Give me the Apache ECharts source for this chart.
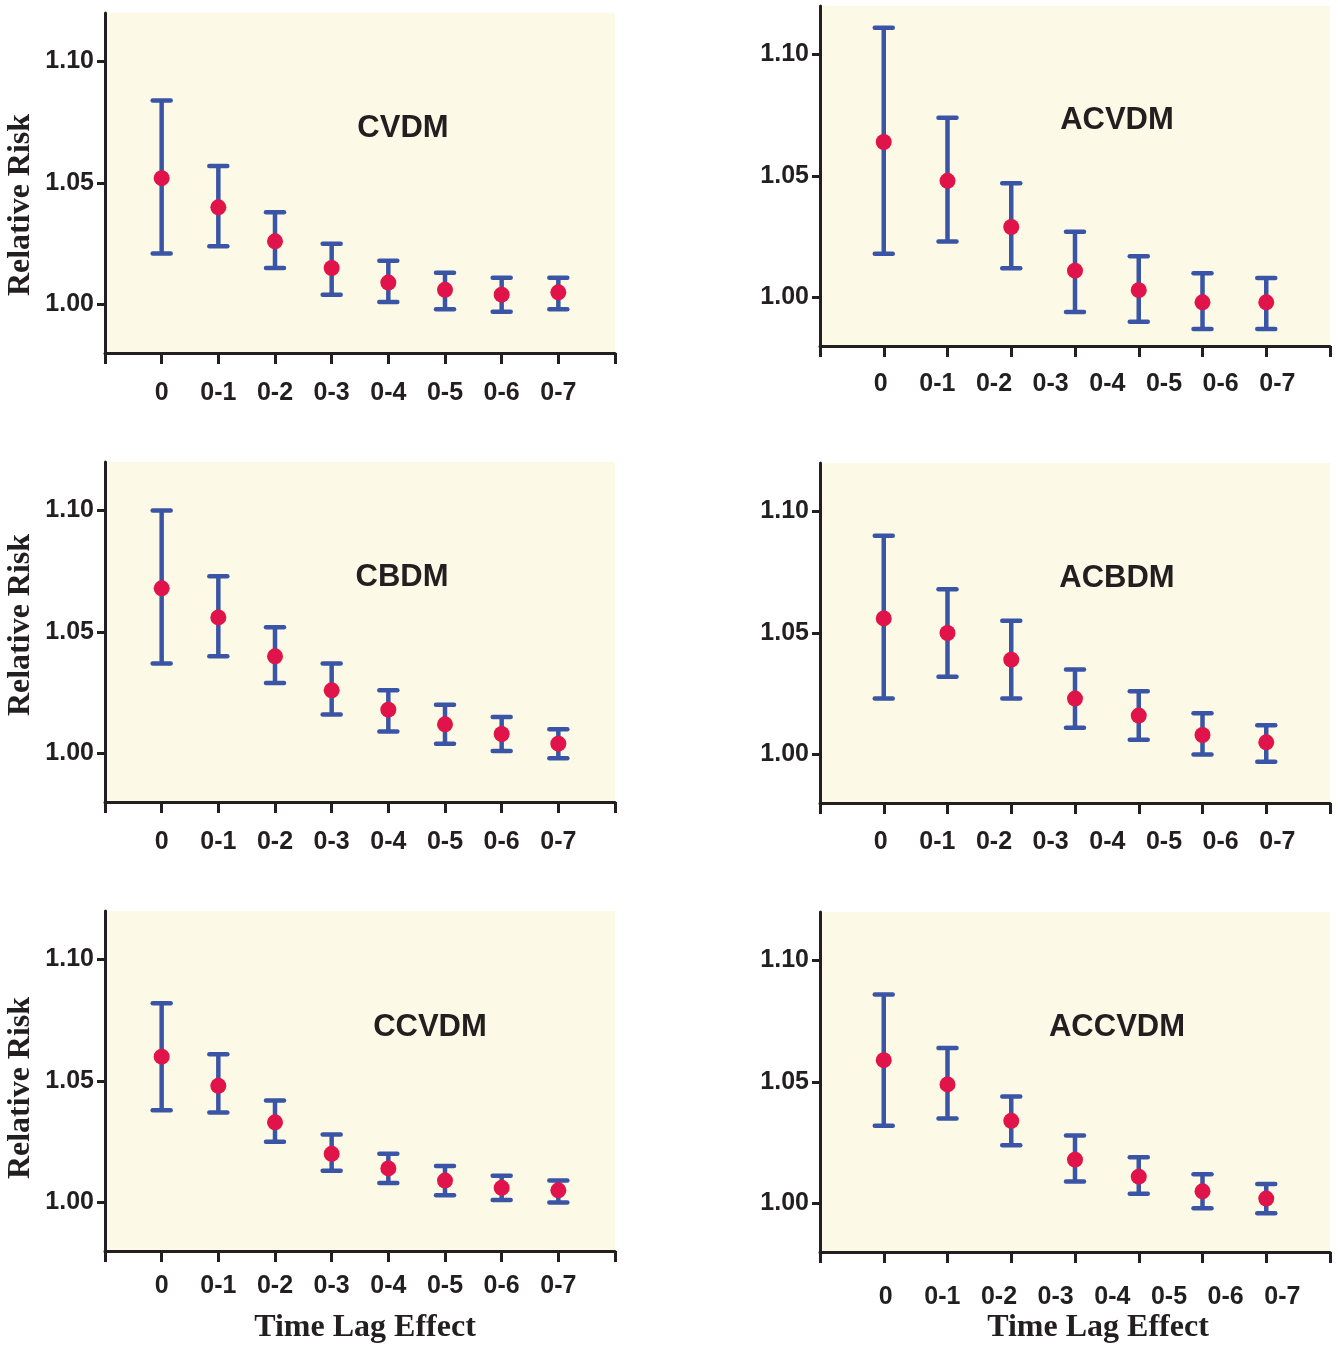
<!DOCTYPE html>
<html>
<head>
<meta charset="utf-8">
<script src="https://cdn.jsdelivr.net/npm/echarts@6/dist/echarts.min.js"></script>
<style>
  html, body { margin: 0; padding: 0; background: #fff; }
  #chart { width: 1338px; height: 1346px; }
</style>
</head>
<body>
<div id="chart"></div>
<script>
// lag labels
const lags = ['0', '0-1', '0-2', '0-3', '0-4', '0-5', '0-6', '0-7']
const yTicks = [1.00, 1.05, 1.10]

// relative risk + 95% CI
const cvdmRR   = [1.052, 1.040, 1.026, 1.015, 1.009, 1.006, 1.004, 1.005]
const cvdmLow  = [1.021, 1.024, 1.015, 1.004, 1.001, 0.998, 0.997, 0.998]
const cvdmHigh = [1.084, 1.057, 1.038, 1.025, 1.018, 1.013, 1.011, 1.011]

const acvdmRR   = [1.064, 1.048, 1.029, 1.011, 1.003, 0.998, 0.998]
const acvdmLow  = [1.018, 1.023, 1.012, 0.994, 0.990, 0.987, 0.987]
const acvdmHigh = [1.111, 1.074, 1.047, 1.027, 1.017, 1.010, 1.008]

const cbdmRR   = [1.068, 1.056, 1.040, 1.026, 1.018, 1.012, 1.008, 1.004]
const cbdmLow  = [1.037, 1.040, 1.029, 1.016, 1.009, 1.004, 1.001, 0.998]
const cbdmHigh = [1.100, 1.073, 1.052, 1.037, 1.026, 1.020, 1.015, 1.010]

const acbdmRR   = [1.056, 1.050, 1.039, 1.023, 1.016, 1.008, 1.005]
const acbdmLow  = [1.023, 1.032, 1.023, 1.011, 1.006, 1.000, 0.997]
const acbdmHigh = [1.090, 1.068, 1.055, 1.035, 1.026, 1.017, 1.012]

const ccvdmRR   = [1.060, 1.048, 1.033, 1.020, 1.014, 1.009, 1.006, 1.005]
const ccvdmLow  = [1.038, 1.037, 1.025, 1.013, 1.008, 1.003, 1.001, 1.000]
const ccvdmHigh = [1.082, 1.061, 1.042, 1.028, 1.020, 1.015, 1.011, 1.009]

const accvdmRR   = [1.059, 1.049, 1.034, 1.018, 1.011, 1.005, 1.002]
const accvdmLow  = [1.032, 1.035, 1.024, 1.009, 1.004, 0.998, 0.996]
const accvdmHigh = [1.086, 1.064, 1.044, 1.028, 1.019, 1.012, 1.008]

const BLUE = '#3a55a5'
const RED = '#e0144a'
const INK = '#231f20'
const BG = '#fcfae6'
const SANS = '"Liberation Sans", Arial, sans-serif'
const SERIF = '"Liberation Serif", "Times New Roman", serif'

// panels: grid placement, title placement, label tweak
const panels = [
  { name: 'CVDM',   rr: cvdmRR,   lo: cvdmLow,   hi: cvdmHigh,   left: 105, top: 13,  tx: 403,  ty: 128,  margin: 28 },
  { name: 'ACVDM',  rr: acvdmRR,  lo: acvdmLow,  hi: acvdmHigh,  left: 820, top: 6,   tx: 1117, ty: 120,  margin: 26, shift: 8 },
  { name: 'CBDM',   rr: cbdmRR,   lo: cbdmLow,   hi: cbdmHigh,   left: 105, top: 462, tx: 402,  ty: 577,  margin: 28 },
  { name: 'ACBDM',  rr: acbdmRR,  lo: acbdmLow,  hi: acbdmHigh,  left: 820, top: 463, tx: 1117, ty: 578,  margin: 27, shift: 8 },
  { name: 'CCVDM',  rr: ccvdmRR,  lo: ccvdmLow,  hi: ccvdmHigh,  left: 105, top: 911, tx: 430,  ty: 1027, margin: 23 },
  { name: 'ACCVDM', rr: accvdmRR, lo: accvdmLow, hi: accvdmHigh, left: 820, top: 912, tx: 1117, ty: 1027, margin: 33, shift: 18 }
]

const grid = []
const xAxis = []
const yAxis = []
const series = []
const graphic = []

const labelStyle = { color: INK, fontFamily: SANS, fontWeight: 'bold', fontSize: 25 }

panels.forEach(function (p, i) {
  const n = p.rr.length
  const full = n === lags.length
  grid.push({
    left: p.left, top: p.top, width: 510, height: 340,
    show: true, backgroundColor: BG, borderWidth: 0,
    containLabel: false, outerBoundsMode: 'none'
  })

  // axis with ticks: one slot per data point, plus an empty slot at each end
  const cats = [''].concat(lags.slice(0, n), [''])
  xAxis.push({
    type: 'category', gridIndex: i, position: 'bottom', data: cats, boundaryGap: false,
    axisLine: { show: true, onZero: false, lineStyle: { color: INK, width: 3 } },
    axisTick: { show: true, inside: false, length: 11, interval: 0, lineStyle: { color: INK, width: 3 } },
    axisLabel: full ? Object.assign({ show: true, interval: 0, margin: p.margin }, labelStyle) : { show: false },
    splitLine: { show: false }
  })

  yAxis.push({
    type: 'value', gridIndex: i, min: 0.98, max: 1.12,
    axisLine: { show: true, lineStyle: { color: INK, width: 3 } },
    axisTick: { show: true, length: 8, customValues: yTicks, lineStyle: { color: INK, width: 3 } },
    axisLabel: Object.assign({
      show: true, margin: 11, customValues: yTicks,
      formatter: function (v) { return v.toFixed(2) }
    }, labelStyle),
    splitLine: { show: false }
  })

  // right-hand panels list all eight lag labels on their own spacing
  if (!full) {
    xAxis.push({
      type: 'category', gridIndex: i, position: 'bottom', data: [''].concat(lags, ['']), boundaryGap: false,
      axisLine: { show: false, onZero: false }, axisTick: { show: false }, splitLine: { show: false },
      axisLabel: Object.assign({ show: true, interval: 0, margin: p.margin, padding: [0, 0, 0, p.shift] }, labelStyle)
    })
  }
  const xIdx = xAxis.length - (full ? 1 : 2)

  const bars = p.rr.map(function (v, k) { return [k + 1, p.lo[k], p.hi[k]] })
  const dots = p.rr.map(function (v, k) { return [k + 1, v] })

  series.push({
    type: 'custom', xAxisIndex: xIdx, yAxisIndex: i, z: 2,
    data: bars,
    renderItem: function (params, api) {
      const x = api.value(0)
      const lo = api.coord([x, api.value(1)])
      const hi = api.coord([x, api.value(2)])
      const cap = 9
      const st = { stroke: BLUE, lineWidth: 4.5, lineCap: 'round' }
      return {
        type: 'group',
        children: [
          { type: 'line', shape: { x1: lo[0], y1: lo[1], x2: hi[0], y2: hi[1] }, style: { stroke: BLUE, lineWidth: 4.5 } },
          { type: 'line', shape: { x1: hi[0] - cap, y1: hi[1], x2: hi[0] + cap, y2: hi[1] }, style: st },
          { type: 'line', shape: { x1: lo[0] - cap, y1: lo[1], x2: lo[0] + cap, y2: lo[1] }, style: st }
        ]
      }
    }
  })
  series.push({
    type: 'scatter', xAxisIndex: xIdx, yAxisIndex: i, z: 3,
    symbol: 'circle', symbolSize: 16,
    itemStyle: { color: RED, opacity: 1 },
    data: dots
  })

  graphic.push({
    type: 'text', x: p.tx, y: p.ty,
    style: { text: p.name, fill: INK, font: 'bold 31px ' + SANS, align: 'center', verticalAlign: 'middle' }
  })
})

// axis titles
const yTitleY = [205, 625, 1088]
yTitleY.forEach(function (y) {
  graphic.push({
    type: 'text', x: 21, y: y, rotation: Math.PI / 2,
    style: { text: 'Relative Risk', fill: INK, font: 'bold 32px ' + SERIF, align: 'center', verticalAlign: 'middle' }
  })
})
;[365, 1098].forEach(function (x) {
  graphic.push({
    type: 'text', x: x, y: 1328,
    style: { text: 'Time Lag Effect', fill: INK, font: 'bold 32px ' + SERIF, align: 'center', verticalAlign: 'middle' }
  })
})

const chart = echarts.init(document.getElementById('chart'))
chart.setOption({
  animation: false,
  backgroundColor: '#ffffff',
  grid: grid,
  xAxis: xAxis,
  yAxis: yAxis,
  series: series,
  graphic: graphic
})
</script>
</body>
</html>
